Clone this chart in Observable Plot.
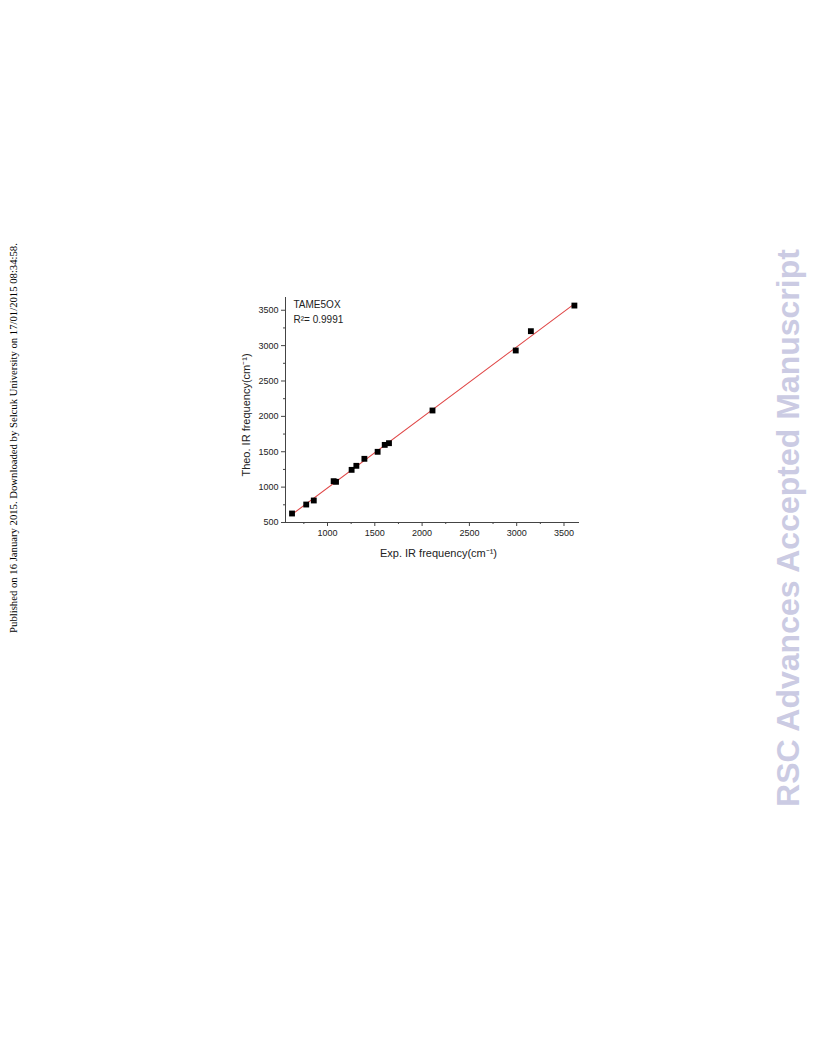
<!DOCTYPE html>
<html>
<head>
<meta charset="utf-8">
<script src="https://cdn.jsdelivr.net/npm/d3@7"></script>
<script src="https://cdn.jsdelivr.net/npm/@observablehq/plot@0.6"></script>
<style>
  html, body { margin: 0; padding: 0; background: #fff; }
  body { width: 816px; height: 1056px; position: relative; overflow: hidden; }
  #chart { position: absolute; left: 230px; top: 290px; }
  .side-left {
    position: absolute; left: 13px; top: 438px;
    transform: translate(-50%, -50%) rotate(-90deg);
    white-space: nowrap; font-family: "Liberation Serif", "DejaVu Serif", serif;
    font-size: 10.7px; color: #000;
  }
  .side-right {
    position: absolute; left: 788px; top: 528px;
    transform: translate(-50%, -50%) rotate(-90deg);
    white-space: nowrap; font-family: "Liberation Sans", Arial, sans-serif;
    font-weight: bold; font-size: 32px; color: #cbcbe3;
  }
</style>
</head>
<body>
<div class="side-left">Published on 16 January 2015. Downloaded by Selcuk University on 17/01/2015 08:34:58.</div>
<div class="side-right">RSC Advances Accepted Manuscript</div>
<div id="chart"></div>
<script>
const expFreq  = [625, 775, 855, 1065, 1090, 1255, 1305, 1390, 1530, 1605, 1650, 2110, 2990, 3150, 3610];
const theoFreq = [627, 754, 811, 1084, 1075, 1244, 1301, 1400, 1499, 1597, 1621, 2083, 2931, 3204, 3566];
const xTicks = [1000, 1500, 2000, 2500, 3000, 3500];
const yTicks = [500, 1000, 1500, 2000, 2500, 3000, 3500];
const xMinor = [750, 1250, 1750, 2250, 2750, 3250];
const yMinor = [750, 1250, 1750, 2250, 2750, 3250];
const seriesName = "TAME5OX";
const r2Label = "R\u00B2= 0.9991";
const xLabel = "Exp. IR frequency(cm\u207B\u00B9)";
const yLabel = "Theo. IR frequency(cm\u207B\u00B9)";

const data = expFreq.map((x, i) => ({x, y: theoFreq[i]}));

const chart = Plot.plot({
  width: 360,
  height: 280,
  marginLeft: 55,
  marginRight: 11,
  marginTop: 7,
  marginBottom: 48,
  style: {fontFamily: "'Liberation Sans', Arial, sans-serif", fontSize: "9px", color: "#222", background: "white"},
  x: {domain: [556, 3664]},
  y: {domain: [500, 3680]},
  marks: [
    Plot.axisX({ticks: xMinor, tickSize: 2, tickFormat: () => "", stroke: "#444", label: null}),
    Plot.axisX({ticks: xTicks, tickSize: 4, tickFormat: d => String(d), tickPadding: 3, fontSize: 9, stroke: "#444", label: null}),
    Plot.axisY({ticks: yMinor, tickSize: 2, tickFormat: () => "", stroke: "#444", label: null}),
    Plot.axisY({ticks: yTicks, tickSize: 4, tickFormat: d => String(d), tickPadding: 3, fontSize: 9, stroke: "#444", label: null}),
    Plot.ruleX([556], {stroke: "#444", strokeWidth: 1}),
    Plot.ruleY([500], {stroke: "#444", strokeWidth: 1}),
    Plot.linearRegressionY(data, {x: "x", y: "y", stroke: "#e04848", strokeWidth: 1.1, ci: 0}),
    Plot.dot(data, {x: "x", y: "y", symbol: "square", r: 3.3, fill: "#000", stroke: "none"}),
    Plot.text([seriesName], {frameAnchor: "top-left", dx: 8, dy: 3, text: d => d, fontSize: 10, fill: "#222"}),
    Plot.text([r2Label], {frameAnchor: "top-left", dx: 8, dy: 18, text: d => d, fontSize: 10, fill: "#222"}),
    Plot.text([xLabel], {frameAnchor: "bottom", dx: 6, dy: 34, text: d => d, fontSize: 11, fill: "#222"}),
    Plot.text([yLabel], {frameAnchor: "left", textAnchor: "middle", dx: -39, dy: 5, rotate: -90, text: d => d, fontSize: 11, fill: "#222"})
  ]
});
document.getElementById("chart").appendChild(chart);
</script>
</body>
</html>
